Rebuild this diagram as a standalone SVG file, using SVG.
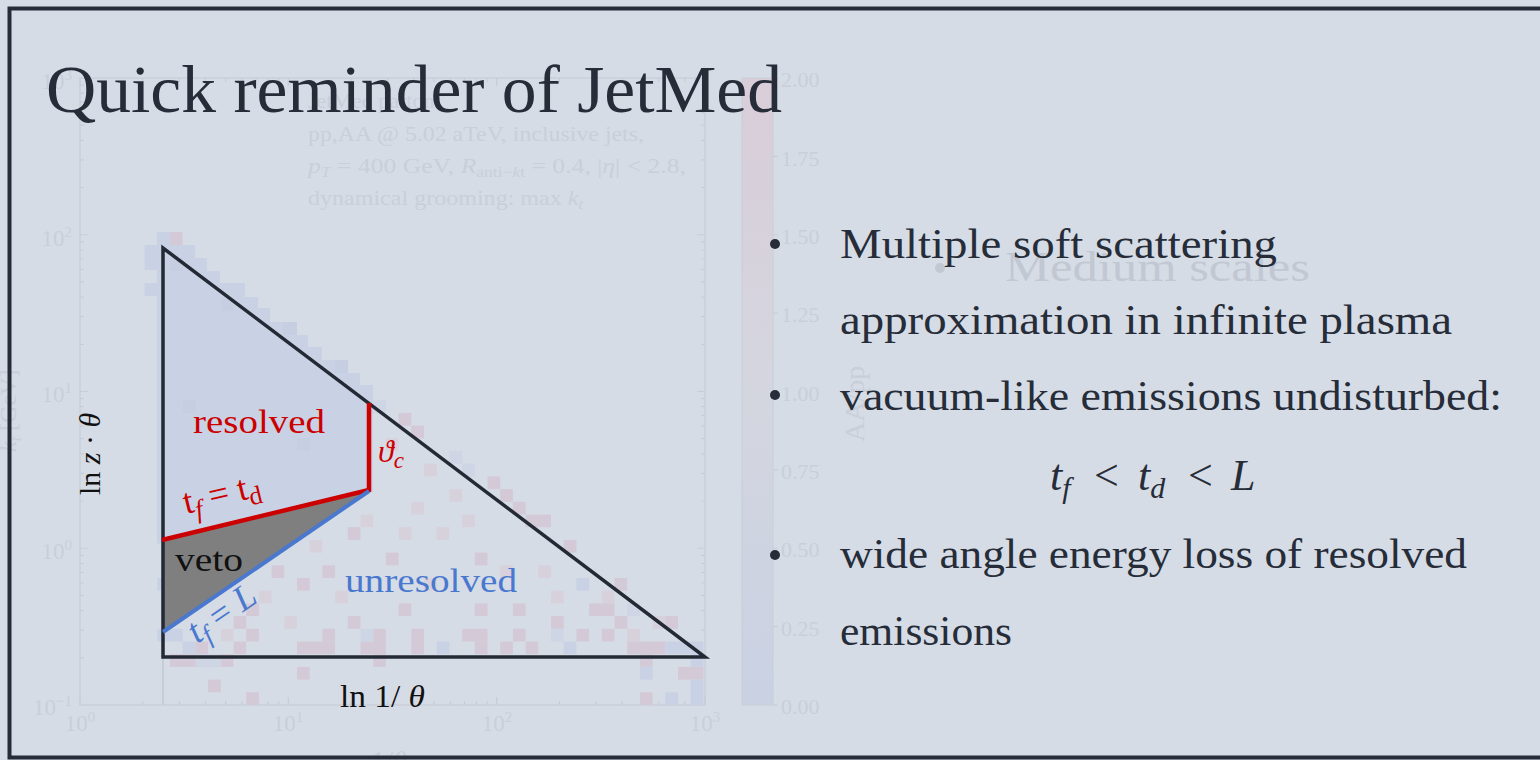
<svg xmlns="http://www.w3.org/2000/svg" width="1540" height="760" viewBox="0 0 1540 760">
<defs>
<linearGradient id="cbar" x1="0" y1="0" x2="0" y2="1">
<stop offset="0" stop-color="#d9cdd8"/>
<stop offset="0.5" stop-color="#d4d6df"/>
<stop offset="1" stop-color="#c9d1e3"/>
</linearGradient>
<style>
.serif{font-family:"Liberation Serif","Times New Roman",serif}
.ghost{fill:#c9cfd9;font-family:"Liberation Serif",serif}
.ghost2{fill:#c2c8d2;font-family:"Liberation Serif",serif}
.gline{stroke:#c7cdd7;stroke-width:1.2;fill:none}
.txt{fill:#262c38;font-family:"Liberation Serif","Times New Roman",serif}
.pk{fill:#d4c9d6}
.pl{fill:#d7d1dc}
.bl{fill:#c9d1e4}
.bf{fill:#ced5e5}
.bd{fill:#c6cee2}
</style>
</defs>
<rect id="background" x="0" y="0" width="1540" height="760" fill="#d5dce6"/>

<g id="ghost-plot">
<rect x="80" y="78" width="625" height="627" class="gline"/>
<path class="gline" d="M80 705v-8M288.3 705v-8M496.7 705v-8M705 705v-8M80 78v8M288.3 78v8M496.7 78v8M705 78v8
M142.7 705v-4M179.4 705v-4M205.4 705v-4M225.6 705v-4M242.1 705v-4M256.1 705v-4M268.1 705v-4M278.8 705v-4M351 705v-4M387.7 705v-4M413.7 705v-4M433.9 705v-4M450.4 705v-4M464.4 705v-4M476.4 705v-4M487.1 705v-4M559.4 705v-4M596.1 705v-4M622.1 705v-4M642.3 705v-4M658.8 705v-4M672.8 705v-4M684.8 705v-4M695.5 705v-4
M142.7 78v4M179.4 78v4M205.4 78v4M225.6 78v4M242.1 78v4M256.1 78v4M268.1 78v4M278.8 78v4M351 78v4M387.7 78v4M413.7 78v4M433.9 78v4M450.4 78v4M464.4 78v4M476.4 78v4M487.1 78v4M559.4 78v4M596.1 78v4M622.1 78v4M642.3 78v4M658.8 78v4M672.8 78v4M684.8 78v4M695.5 78v4
M80 234.75h8M80 391.5h8M80 548.25h8M705 234.75h-8M705 391.5h-8M705 548.25h-8
M80 657.8h4M80 630.2h4M80 610.6h4M80 595.4h4M80 583h4M80 572.5h4M80 563.5h4M80 555.4h4M80 501h4M80 473.4h4M80 453.8h4M80 438.6h4M80 426.2h4M80 415.7h4M80 406.7h4M80 398.6h4M80 344.3h4M80 316.7h4M80 297.1h4M80 281.9h4M80 269.5h4M80 259h4M80 250h4M80 241.9h4M80 187.5h4M80 159.9h4M80 140.3h4M80 125.1h4M80 112.7h4M80 102.2h4M80 93.2h4M80 85.1h4
M705 657.8h-4M705 630.2h-4M705 610.6h-4M705 595.4h-4M705 583h-4M705 572.5h-4M705 563.5h-4M705 555.4h-4M705 501h-4M705 473.4h-4M705 453.8h-4M705 438.6h-4M705 426.2h-4M705 415.7h-4M705 406.7h-4M705 398.6h-4M705 344.3h-4M705 316.7h-4M705 297.1h-4M705 281.9h-4M705 269.5h-4M705 259h-4M705 250h-4M705 241.9h-4M705 187.5h-4M705 159.9h-4M705 140.3h-4M705 125.1h-4M705 112.7h-4M705 102.2h-4M705 93.2h-4M705 85.1h-4"/>
<line x1="163" y1="657" x2="163" y2="705" stroke="#c2c8d2" stroke-width="1.5"/>
<g class="ghost" font-size="23">
<text x="72" y="89" text-anchor="end">10<tspan font-size="15" dy="-9">3</tspan></text>
<text x="72" y="246" text-anchor="end">10<tspan font-size="15" dy="-9">2</tspan></text>
<text x="72" y="402" text-anchor="end">10<tspan font-size="15" dy="-9">1</tspan></text>
<text x="72" y="559" text-anchor="end">10<tspan font-size="15" dy="-9">0</tspan></text>
<text x="72" y="715" text-anchor="end">10<tspan font-size="15" dy="-9">−1</tspan></text>
<text x="80" y="731" text-anchor="middle">10<tspan font-size="15" dy="-9">0</tspan></text>
<text x="288" y="731" text-anchor="middle">10<tspan font-size="15" dy="-9">1</tspan></text>
<text x="497" y="731" text-anchor="middle">10<tspan font-size="15" dy="-9">2</tspan></text>
<text x="705" y="731" text-anchor="middle">10<tspan font-size="15" dy="-9">3</tspan></text>
</g>
<g class="ghost" font-size="22">
<text x="308" y="108">JetMed parton</text>
<text x="308" y="141" textLength="336" lengthAdjust="spacingAndGlyphs">pp,AA @ 5.02 aTeV, inclusive jets,</text>
<text x="308" y="173" textLength="378" lengthAdjust="spacingAndGlyphs"><tspan font-style="italic">p</tspan><tspan font-size="15" font-style="italic" dy="4">T</tspan><tspan dy="-4"> = 400 GeV, </tspan><tspan font-style="italic">R</tspan><tspan font-size="15" dy="4">anti−<tspan font-style="italic">k</tspan>t</tspan><tspan dy="-4"> = 0.4, |</tspan><tspan font-style="italic">η</tspan>| &lt; 2.8,</text>
<text x="308" y="205" textLength="275" lengthAdjust="spacingAndGlyphs">dynamical grooming: max <tspan font-style="italic">k</tspan><tspan font-size="15" font-style="italic" dy="4">t</tspan></text>
<text transform="translate(16,452) rotate(-90)" font-size="24"><tspan font-style="italic">k</tspan><tspan font-size="16" font-style="italic" dy="5">t</tspan><tspan dy="-5"> [GeV]</tspan></text>
<text x="389" y="770" text-anchor="middle" font-size="28">1/<tspan font-style="italic">θ</tspan></text>
</g>
<rect x="742" y="78" width="31" height="627" fill="url(#cbar)" stroke="#c8ced8" stroke-width="1"/>
<path class="gline" d="M773 78h5M773 156.4h5M773 234.75h5M773 313.1h5M773 391.5h5M773 469.9h5M773 548.25h5M773 626.6h5M773 705h5"/>
<g class="ghost" font-size="22">
<text x="781" y="87">2.00</text>
<text x="781" y="166">1.75</text>
<text x="781" y="244">1.50</text>
<text x="781" y="322">1.25</text>
<text x="781" y="401">1.00</text>
<text x="781" y="479">0.75</text>
<text x="781" y="557">0.50</text>
<text x="781" y="636">0.25</text>
<text x="781" y="714">0.00</text>
<text transform="translate(864,442) rotate(-90)" font-size="28">AA/pp</text>
</g>
<g class="ghost2">
<circle cx="940" cy="268" r="5"/>
<text x="1005" y="281" font-size="42" textLength="305" lengthAdjust="spacingAndGlyphs">Medium scales</text>
</g>
</g>

<g id="heatmap">
<path class="bl" d="M157,232 H170 V245 H195 V258 H207 V271 H220 V283 H245 V297 H258 V308 H270 V322 H297 V335 H308 V347 H322 V360 H348 V373 H360 V385 H373 V492 L157,544 Z"/>
<rect class="pk" x="170" y="232" width="12.7" height="13"/>
<rect class="bl" x="144.6" y="245" width="12.7" height="25"/>
<rect class="bl" x="144.6" y="283" width="12.7" height="13"/>
<rect class="bd" x="283" y="322" width="14" height="13"/>
<rect class="bd" x="335" y="360" width="13" height="13"/>
<rect class="bd" x="170" y="258" width="12.7" height="12.7"/>
<rect class="bd" x="220.8" y="298.6" width="12.7" height="12.7"/>
<rect class="bd" x="182.7" y="400.2" width="12.7" height="12.7"/>
<rect class="bd" x="297" y="438.3" width="12.7" height="12.7"/>
<rect class="bf" x="373.2" y="400.2" width="12.7" height="12.7"/>
<g>
<rect class="pl" x="424" y="463.7" width="12.7" height="12.7"/>
<rect class="pl" x="385.9" y="438.3" width="12.7" height="12.7"/>
<rect class="pl" x="449.4" y="489.1" width="12.7" height="12.7"/>
<rect class="pl" x="436.7" y="527.2" width="12.7" height="12.7"/>
<rect class="pl" x="538.3" y="565.3" width="12.7" height="12.7"/>
<rect class="pl" x="601.8" y="590.7" width="12.7" height="12.7"/>
<rect class="pl" x="627.2" y="628.8" width="12.7" height="12.7"/>
<rect class="pl" x="652.6" y="616.1" width="12.7" height="12.7"/>
<rect class="pl" x="411.3" y="501.8" width="12.7" height="12.7"/>
<rect class="pl" x="360.5" y="514.5" width="12.7" height="12.7"/>
<rect class="pl" x="309.7" y="539.9" width="12.7" height="12.7"/>
<rect class="pl" x="258.9" y="590.7" width="12.7" height="12.7"/>
<rect class="pl" x="220.8" y="628.8" width="12.7" height="12.7"/>
<rect class="pl" x="284.3" y="616.1" width="12.7" height="12.7"/>
<rect class="pl" x="335.1" y="590.7" width="12.7" height="12.7"/>
<rect class="pl" x="424" y="578" width="12.7" height="12.7"/>
<rect class="pl" x="500.2" y="565.3" width="12.7" height="12.7"/>
<rect class="pl" x="551" y="590.7" width="12.7" height="12.7"/>
<rect class="pl" x="462.1" y="514.5" width="12.7" height="12.7"/>
<rect class="pl" x="398.6" y="527.2" width="12.7" height="12.7"/>
</g>
<g>
<rect class="pk" x="398.6" y="412.9" width="12.7" height="12.7"/>
<rect class="pk" x="411.3" y="425.6" width="12.7" height="12.7"/>
<rect class="pk" x="487.5" y="476.4" width="12.7" height="12.7"/>
<rect class="pk" x="500.2" y="489.1" width="12.7" height="12.7"/>
<rect class="pk" x="512.9" y="501.8" width="12.7" height="12.7"/>
<rect class="pk" x="525.6" y="514.5" width="25.4" height="12.7"/>
<rect class="pk" x="563.7" y="539.9" width="12.7" height="12.7"/>
<rect class="pk" x="614.5" y="578" width="12.7" height="12.7"/>
<rect class="pk" x="665.3" y="616.1" width="12.7" height="12.7"/>
<rect class="pk" x="385.9" y="552.6" width="12.7" height="12.7"/>
<rect class="pk" x="474.8" y="552.6" width="12.7" height="12.7"/>
<rect class="pk" x="322.4" y="565.3" width="12.7" height="12.7"/>
<rect class="pk" x="398.6" y="603.4" width="12.7" height="12.7"/>
<rect class="pk" x="512.9" y="603.4" width="12.7" height="12.7"/>
<rect class="pk" x="589.1" y="603.4" width="25.4" height="12.7"/>
<rect class="pk" x="474.8" y="603.4" width="12.7" height="12.7"/>
<rect class="pk" x="347.8" y="616.1" width="12.7" height="12.7"/>
<rect class="pk" x="462.1" y="628.8" width="25.4" height="12.7"/>
<rect class="pk" x="512.9" y="628.8" width="12.7" height="12.7"/>
<rect class="pk" x="551" y="616.1" width="12.7" height="12.7"/>
<rect class="pk" x="601.8" y="628.8" width="12.7" height="12.7"/>
<rect class="pk" x="576.4" y="628.8" width="12.7" height="12.7"/>
<rect class="pk" x="373.2" y="628.8" width="12.7" height="25.4"/>
<rect class="pk" x="411.3" y="628.8" width="12.7" height="25.4"/>
<rect class="pk" x="500.2" y="641.5" width="12.7" height="12.7"/>
<rect class="pk" x="525.6" y="641.5" width="12.7" height="12.7"/>
<rect class="pk" x="297" y="641.5" width="38" height="12.7"/>
<rect class="pk" x="360.5" y="641.5" width="12.7" height="12.7"/>
<rect class="pk" x="474.8" y="641.5" width="12.7" height="12.7"/>
<rect class="pk" x="627.2" y="641.5" width="38" height="12.7"/>
<rect class="pk" x="614.5" y="616.1" width="12.7" height="12.7"/>
<rect class="pk" x="347.8" y="527.2" width="12.7" height="12.7"/>
<rect class="pk" x="271.6" y="565.3" width="12.7" height="12.7"/>
<rect class="pk" x="297" y="578" width="12.7" height="12.7"/>
<rect class="pk" x="246.2" y="603.4" width="12.7" height="12.7"/>
<rect class="pk" x="233.5" y="616.1" width="12.7" height="12.7"/>
<rect class="pk" x="246.2" y="628.8" width="12.7" height="12.7"/>
<rect class="pk" x="322.4" y="628.8" width="12.7" height="12.7"/>
<rect class="pk" x="233.5" y="641.5" width="12.7" height="12.7"/>
<rect class="pk" x="195.4" y="641.5" width="12.7" height="12.7"/>
<rect class="pk" x="170" y="654.2" width="63.5" height="12.7"/>
<rect class="pk" x="208.1" y="679.6" width="12.7" height="12.7"/>
<rect class="pk" x="297" y="666.9" width="12.7" height="12.7"/>
<rect class="pk" x="246.2" y="692.3" width="12.7" height="12.7"/>
<rect class="pk" x="373.2" y="654.2" width="12.7" height="12.7"/>
<rect class="pk" x="639.9" y="654.2" width="12.7" height="12.7"/>
<rect class="pk" x="678" y="666.9" width="25.4" height="12.7"/>
<rect class="pk" x="639.9" y="692.3" width="12.7" height="12.7"/>
</g>
<g>
<rect class="bl" x="639.9" y="666.9" width="12.7" height="12.7"/>
<rect class="bl" x="665.3" y="692.3" width="12.7" height="12.7"/>
<rect class="bl" x="690.7" y="679.6" width="12.7" height="25.4"/>
<rect class="bl" x="665.3" y="641.5" width="25.4" height="12.7"/>
<rect class="bl" x="690.7" y="641.5" width="12.7" height="25.4"/>
<rect class="bl" x="436.7" y="641.5" width="12.7" height="12.7"/>
<rect class="bl" x="563.7" y="641.5" width="12.7" height="12.7"/>
<rect class="bf" x="551" y="628.8" width="12.7" height="12.7"/>
<rect class="bf" x="627.2" y="603.4" width="12.7" height="12.7"/>
<rect class="bl" x="576.4" y="578" width="12.7" height="12.7"/>
<rect class="bf" x="462.1" y="463.7" width="12.7" height="12.7"/>
<rect class="bf" x="449.4" y="451" width="12.7" height="12.7"/>
<rect class="bf" x="360.5" y="628.8" width="12.7" height="12.7"/>
<rect class="bl" x="170" y="628.8" width="12.7" height="12.7"/>
<rect class="bl" x="182.7" y="641.5" width="12.7" height="12.7"/>
<rect class="bl" x="157.3" y="578" width="12.7" height="12.7"/>
<rect class="bl" x="157.3" y="628.8" width="12.7" height="12.7"/>
<rect class="bf" x="195.4" y="654.2" width="25.4" height="12.7"/>
</g>
</g>

<g id="title">
<text class="txt" x="46" y="112" font-size="68" textLength="736" lengthAdjust="spacingAndGlyphs">Quick reminder of JetMed</text>
</g>

<g id="veto-region">
<polygon points="163,540 369,490 163,632" fill="#7f7f7f"/>
</g>

<g id="connectors">
<polygon points="163,248 163,657 705,657" fill="none" stroke="#232a35" stroke-width="3.5" stroke-linejoin="miter" stroke-miterlimit="10"/>
<polyline points="369,403 369,490 162,540" fill="none" stroke="#cc0000" stroke-width="4.5" stroke-linejoin="miter"/>
<line x1="369" y1="491" x2="163" y2="632" stroke="#4a78cf" stroke-width="4"/>
</g>

<g id="region-labels">
<text class="serif" x="193" y="433" font-size="34" fill="#cc0000" textLength="132" lengthAdjust="spacingAndGlyphs">resolved</text>
<text class="serif" x="345" y="592" font-size="34" fill="#4a78cf" textLength="172" lengthAdjust="spacingAndGlyphs">unresolved</text>
<text class="serif" x="175" y="571" font-size="34" fill="#111111" textLength="68" lengthAdjust="spacingAndGlyphs">veto</text>
<text class="serif" x="378" y="462" font-size="32" fill="#cc0000" font-style="italic">ϑ<tspan font-size="23" dy="6">c</tspan></text>
<text class="serif" transform="rotate(-13.6 186 514)" x="186" y="514" font-size="36" fill="#cc0000">t<tspan font-size="26" font-style="italic" dy="7">f</tspan><tspan dy="-7"> = t</tspan><tspan font-size="26" dy="7">d</tspan></text>
<text class="serif" transform="rotate(-34.4 197 644)" x="197" y="644" font-size="36" fill="#4a78cf" font-style="italic">t<tspan font-size="26" dy="7">f</tspan><tspan dy="-7" font-style="normal"> = </tspan>L</text>
</g>

<g id="axis-labels">
<text class="serif" x="340" y="707" font-size="32" fill="#111111" textLength="85" lengthAdjust="spacingAndGlyphs">ln 1/ <tspan font-style="italic">θ</tspan></text>
<text class="serif" transform="translate(100,495) rotate(-90)" font-size="30" fill="#111111">ln <tspan font-style="italic">z</tspan> · <tspan font-style="italic">θ</tspan></text>
</g>

<g id="bullets">
<circle cx="775" cy="244" r="5" fill="#262c38"/>
<circle cx="775" cy="395" r="5" fill="#262c38"/>
<circle cx="775" cy="555" r="5" fill="#262c38"/>
<g class="txt" font-size="42">
<text x="840" y="258" textLength="437" lengthAdjust="spacingAndGlyphs">Multiple soft scattering</text>
<text x="840" y="334" textLength="612" lengthAdjust="spacingAndGlyphs">approximation in infinite plasma</text>
<text x="840" y="410" textLength="662" lengthAdjust="spacingAndGlyphs">vacuum-like emissions undisturbed:</text>
<text x="840" y="568" textLength="627" lengthAdjust="spacingAndGlyphs">wide angle energy loss of resolved</text>
<text x="840" y="645" textLength="172" lengthAdjust="spacingAndGlyphs">emissions</text>
</g>
<text class="txt" y="490" font-size="44"><tspan x="1050" font-style="italic">t</tspan><tspan font-size="30" font-style="italic" dy="8">f</tspan><tspan x="1094" dy="-8">&lt;</tspan><tspan x="1138" font-style="italic">t</tspan><tspan font-size="30" font-style="italic" dy="8">d</tspan><tspan x="1188" dy="-8">&lt;</tspan><tspan x="1231" font-style="italic">L</tspan></text>
</g>

<rect id="frame" x="9.5" y="8.5" width="1545" height="749" fill="none" stroke="#262c38" stroke-width="4"/>
</svg>
